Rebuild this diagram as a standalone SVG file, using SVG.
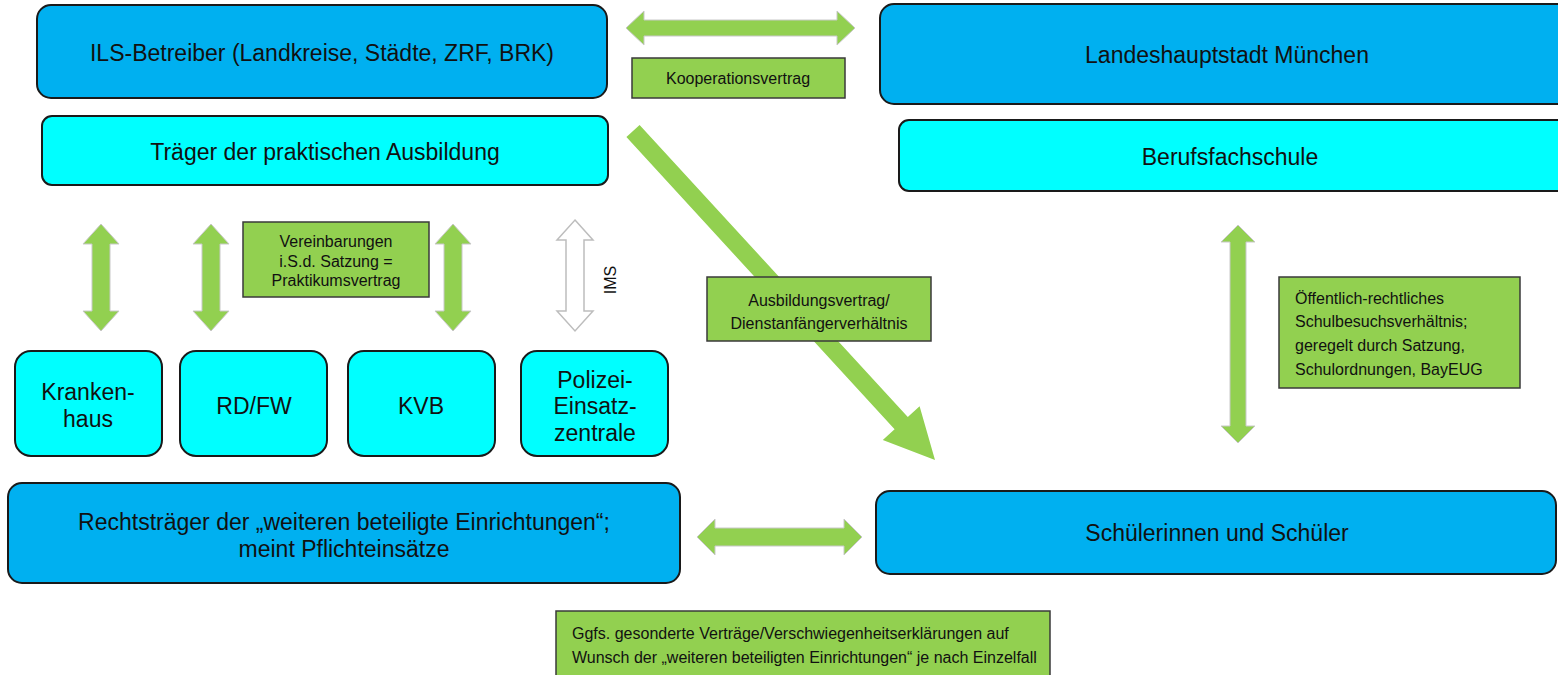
<svg xmlns="http://www.w3.org/2000/svg" width="1558" height="675" viewBox="0 0 1558 675">
<style>
.dark{fill:#00B0F0;stroke:#1a1a1a;stroke-width:2}
.light{fill:#00FFFF;stroke:#1a1a1a;stroke-width:2}
.lbl{fill:#92D050;stroke:#3a3a3a;stroke-width:1.5}
.arr{fill:#92D050;stroke:#c8c8c8;stroke-width:1}
.warr{fill:#ffffff;stroke:#bdbdbd;stroke-width:1.5}
text{font-family:"Liberation Sans",Arial,sans-serif;fill:#111}
.t1{font-size:23px;text-anchor:middle}
.t2{font-size:23px;text-anchor:middle}
.t3{font-size:16px;text-anchor:middle}
.t4{font-size:16px;text-anchor:start}
</style>
<rect width="1558" height="675" fill="#ffffff"/>
<g id="connectors">
<polygon class="arr" points="626,28 644,11 644,20 837,20 837,11 855,28 837,45 837,36 644,36 644,45"/>
<polygon class="arr" points="697,537 715,519 715,528 844,528 844,519 862,537 844,555 844,546 715,546 715,555"/>
<polygon class="arr" points="101,224 119,244 110,244 110,311 119,311 101,331 83,311 92,311 92,244 83,244"/>
<polygon class="arr" points="211,224 229,244 220,244 220,311 229,311 211,331 193,311 202,311 202,244 193,244"/>
<polygon class="arr" points="453,224 471,244 462,244 462,311 471,311 453,331 435,311 444,311 444,244 435,244"/>
<polygon class="warr" points="575,220 593,240 584,240 584,311 593,311 575,331 557,311 566,311 566,240 557,240"/>
<polygon class="arr" points="1238,225 1255,242 1246,242 1246,426 1255,426 1238,443 1221,426 1230,426 1230,242 1221,242"/>
<polygon class="arr" style="stroke:none" points="626.4,137.1 894.6,429.3 882.8,440.1 935,460 919.6,406.3 907.8,417.1 639.6,124.9"/>
<text x="610" y="280" transform="rotate(-90 610 280)" style="font-size:16px;text-anchor:middle" dy="6">IMS</text>
</g>
<g id="ils">
<rect class="dark" x="37" y="5" width="570" height="93" rx="14"/>
<text class="t1" x="322" y="61">ILS-Betreiber (Landkreise, Städte, ZRF, BRK)</text>
</g>
<g id="traeger">
<rect class="light" x="42" y="116" width="566" height="69" rx="10"/>
<text class="t1" x="325" y="160">Träger der praktischen Ausbildung</text>
</g>
<g id="lhm">
<rect class="dark" x="880" y="4" width="700" height="100" rx="14"/>
<text class="t1" x="1227" y="63">Landeshauptstadt München</text>
</g>
<g id="bfs">
<rect class="light" x="899" y="120" width="690" height="71" rx="10"/>
<text class="t1" x="1230" y="165">Berufsfachschule</text>
</g>
<g id="kooperation">
<rect class="lbl" x="632" y="58" width="213" height="40"/>
<text class="t3" x="738" y="84">Kooperationsvertrag</text>
</g>
<g id="vereinbarungen">
<rect class="lbl" x="243" y="222" width="186" height="75"/>
<text class="t3" x="336" y="247">Vereinbarungen</text>
<text class="t3" x="336" y="267">i.S.d. Satzung =</text>
<text class="t3" x="336" y="286">Praktikumsvertrag</text>
</g>
<g id="krankenhaus">
<rect class="light" x="15" y="351" width="147" height="105" rx="16"/>
<text class="t2" x="88" y="400">Kranken-</text>
<text class="t2" x="88" y="427">haus</text>
</g>
<g id="rdfw">
<rect class="light" x="180" y="351" width="147" height="105" rx="16"/>
<text class="t2" x="254" y="414">RD/FW</text>
</g>
<g id="kvb">
<rect class="light" x="348" y="351" width="147" height="105" rx="16"/>
<text class="t2" x="421" y="414">KVB</text>
</g>
<g id="polizei">
<rect class="light" x="521" y="351" width="147" height="105" rx="16"/>
<text class="t2" x="595" y="388">Polizei-</text>
<text class="t2" x="595" y="414">Einsatz-</text>
<text class="t2" x="595" y="441">zentrale</text>
</g>
<g id="ausbildungsvertrag">
<rect class="lbl" x="707" y="277" width="224" height="64"/>
<text class="t3" x="819" y="306">Ausbildungsvertrag/</text>
<text class="t3" x="819" y="329">Dienstanfängerverhältnis</text>
</g>
<g id="schulbesuch">
<rect class="lbl" x="1279" y="277" width="241" height="111"/>
<text class="t4" x="1295" y="304">Öffentlich-rechtliches</text>
<text class="t4" x="1295" y="327">Schulbesuchsverhältnis;</text>
<text class="t4" x="1295" y="351">geregelt durch Satzung,</text>
<text class="t4" x="1295" y="375">Schulordnungen, BayEUG</text>
</g>
<g id="rechtstraeger">
<rect class="dark" x="8" y="483" width="672" height="100" rx="14"/>
<text class="t1" x="344" y="530">Rechtsträger der „weiteren beteiligte Einrichtungen“;</text>
<text class="t1" x="344" y="557">meint Pflichteinsätze</text>
</g>
<g id="schueler">
<rect class="dark" x="876" y="491" width="680" height="83" rx="14"/>
<text class="t1" x="1217" y="541">Schülerinnen und Schüler</text>
</g>
<g id="ggfs">
<rect class="lbl" x="556" y="611" width="494" height="70"/>
<text class="t4" x="572" y="639">Ggfs. gesonderte Verträge/Verschwiegenheitserklärungen auf</text>
<text class="t4" x="572" y="663">Wunsch der „weiteren beteiligten Einrichtungen“ je nach Einzelfall</text>
</g>
</svg>
